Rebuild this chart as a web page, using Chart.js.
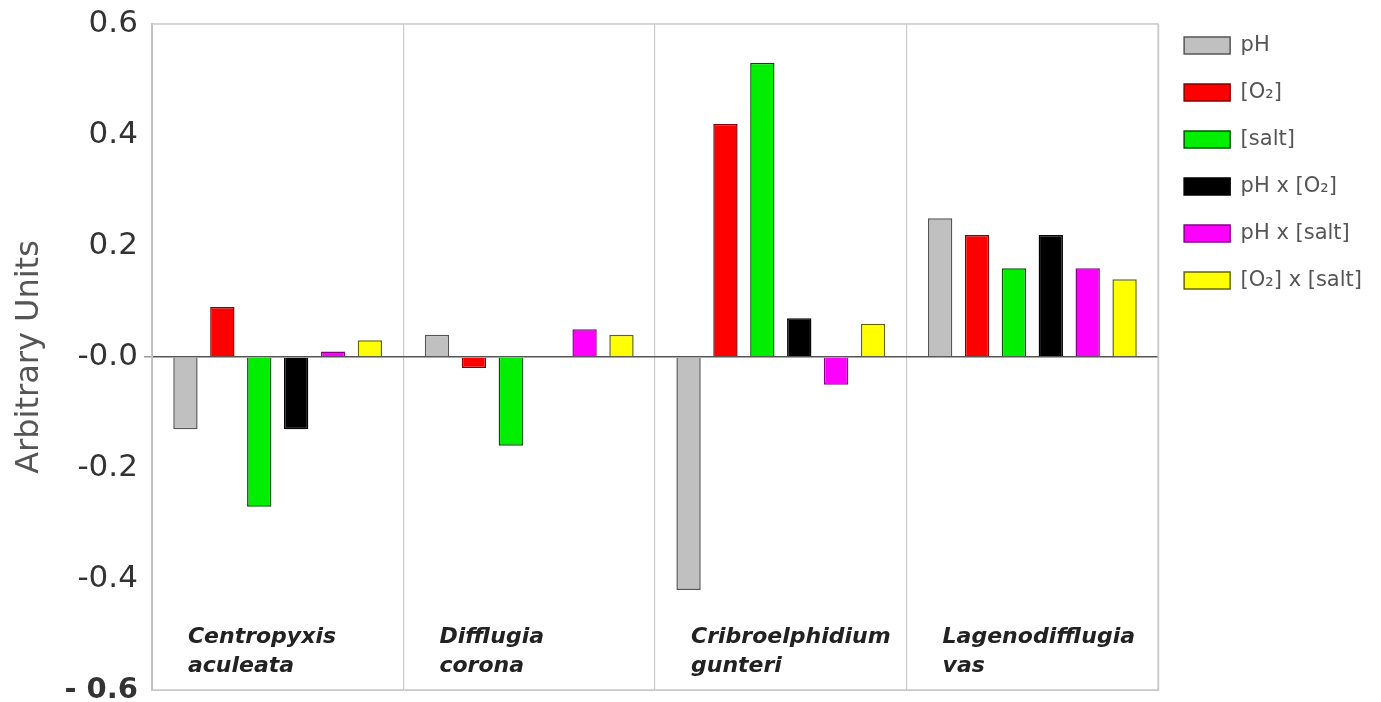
<!DOCTYPE html>
<html>
<head>
<meta charset="utf-8">
<script src="https://cdn.jsdelivr.net/npm/chart.js@4.4.1/dist/chart.umd.min.js"></script>
<style>
  html, body { margin: 0; padding: 0; background: #fff; }
  #wrap { width: 1381px; height: 702px; }
</style>
</head>
<body>
<div id="wrap"><canvas id="mycanvas"></canvas></div>
<script>
var species = [['Centropyxis', 'aculeata'], ['Difflugia', 'corona'], ['Cribroelphidium', 'gunteri'], ['Lagenodifflugia', 'vas']];
var seriesNames = ['pH', '[O\u2082]', '[salt]', 'pH x [O\u2082]', 'pH x [salt]', '[O\u2082] x [salt]'];
var pH        = [-0.13, 0.04, -0.42, 0.25];
var O2        = [0.09, -0.02, 0.42, 0.22];
var salt      = [-0.27, -0.16, 0.53, 0.16];
var pHxO2     = [-0.13, null, 0.07, 0.22];
var pHxSalt   = [0.01, 0.05, -0.05, 0.16];
var O2xSalt   = [0.03, 0.04, 0.06, 0.14];
var yTicks = [-0.6, -0.4, -0.2, 0, 0.2, 0.4, 0.6];
var yTickLabels = ['- 0.6', '-0.4', '-0.2', '-0.0', '0.2', '0.4', '0.6'];

var fills   = ['#c0c0c0', '#ff0000', '#00ee00', '#000000', '#ff00ff', '#ffff00'];
var borders = ['#555555', '#880000', '#005500', '#000000', '#880088', '#666600'];
var values  = [pH, O2, salt, pHxO2, pHxSalt, O2xSalt];
var FONT = '"DejaVu Sans", Verdana, sans-serif';

var datasets = [];
for (var i in values) {
  datasets.push({
    label: seriesNames[i],
    data: values[i],
    backgroundColor: fills[i],
    borderColor: borders[i],
    borderWidth: 1.5,
    barPercentage: 0.66,
    categoryPercentage: 0.88
  });
}

// box round the plot and the species names inside it
var plotExtras = {
  id: 'plotExtras',
  afterDatasetsDraw: function(chart) {
    var ctx = chart.ctx, a = chart.chartArea, x = chart.scales.x;
    ctx.save();
    ctx.strokeStyle = '#c8c8c8';
    ctx.lineWidth = 1.5;
    ctx.strokeRect(a.left, a.top, a.right - a.left, a.bottom - a.top);
    ctx.font = 'italic bold 22px ' + FONT;
    ctx.fillStyle = '#222';
    ctx.textBaseline = 'alphabetic';
    var w = (a.right - a.left) / species.length;
    for (var j = 0; j < species.length; j++) {
      var left = x.getPixelForValue(j) - w / 2 + 36;
      ctx.fillText(species[j][0], left, 643);
      ctx.fillText(species[j][1], left, 672);
    }
    ctx.restore();
  }
};

var ctx = document.getElementById('mycanvas');
var chart = new Chart(ctx, {
  type: 'bar',
  data: { labels: species.map(function(s) { return s.join(' '); }), datasets: datasets },
  options: {
    responsive: true,
    maintainAspectRatio: false,
    animation: false,
    layout: { padding: { top: 9, left: 6, right: 9, bottom: 12 } },
    plugins: {
      tooltip: { enabled: false },
      legend: {
        position: 'right',
        align: 'start',
        labels: {
          boxWidth: 46,
          boxHeight: 17,
          padding: 26,
          color: '#555',
          font: { family: FONT, size: 21 }
        }
      }
    },
    scales: {
      x: {
        offset: true,
        ticks: { display: false },
        grid: { offset: true, color: '#cccccc', lineWidth: 1.2, drawTicks: false },
        border: { display: true, color: '#c8c8c8' }
      },
      y: {
        min: -0.6,
        max: 0.6,
        afterBuildTicks: function(axis) {
          axis.ticks = yTicks.map(function(v) { return { value: v }; });
        },
        ticks: {
          color: '#333',
          padding: 6,
          font: function(c) {
            // taller top label leaves room above the plot, short bottom label keeps it low
            if (c.tick && c.tick.value === 0.6) return { family: FONT, size: 31, lineHeight: 1.16 };
            if (c.tick && c.tick.value === -0.6) return { family: FONT, size: 29, weight: 'bold', lineHeight: 0.3 };
            return { family: FONT, size: 31, lineHeight: 1.2 };
          },
          callback: function(v) {
            var k = yTicks.indexOf(Math.round(v * 10) / 10);
            return k >= 0 ? yTickLabels[k] : '';
          }
        },
        grid: {
          tickLength: 8,
          tickColor: '#999',
          lineWidth: function(c) { return c.tick && c.tick.value === 0 ? 1.5 : 0; },
          color: '#555'
        },
        border: { display: true, color: '#b0b0b0', width: 2 },
        title: {
          display: true,
          text: 'Arbitrary Units',
          color: '#555',
          padding: { top: 4, bottom: 10 },
          font: { family: FONT, size: 32 }
        }
      }
    }
  },
  plugins: [plotExtras]
});
</script>
</body>
</html>
